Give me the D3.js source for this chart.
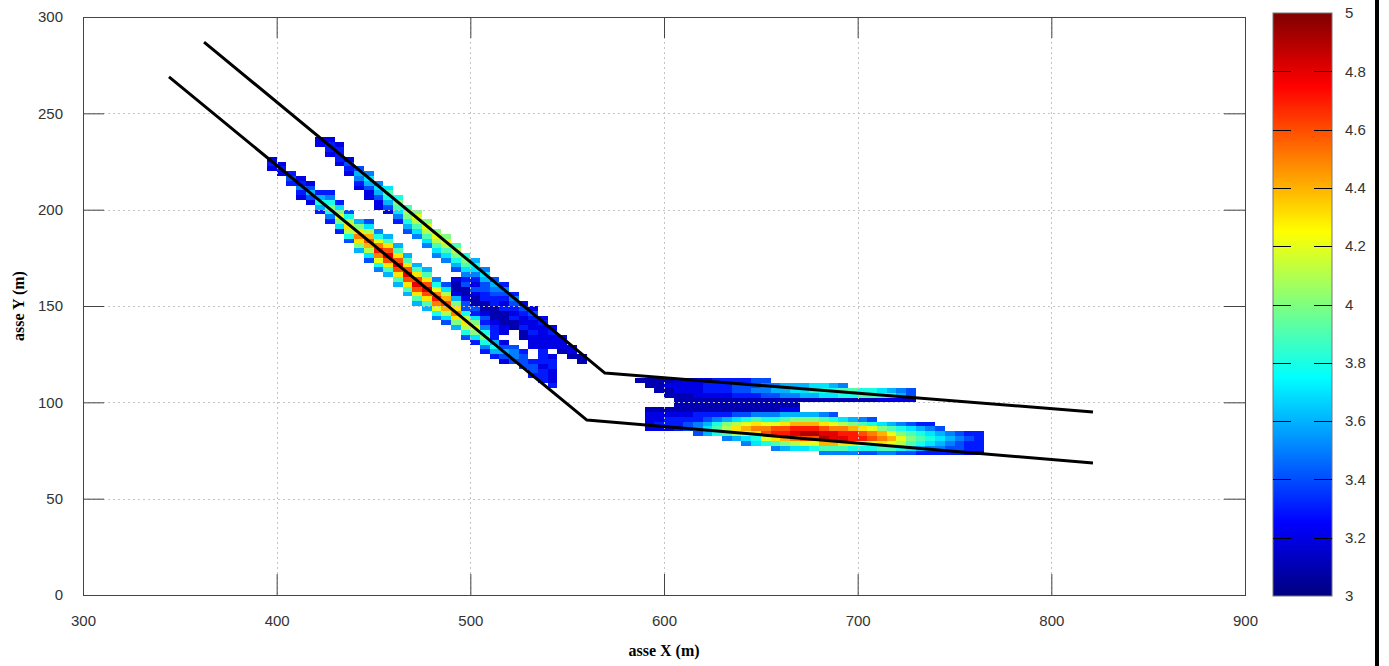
<!DOCTYPE html>
<html>
<head>
<meta charset="utf-8">
<script src="https://cdn.jsdelivr.net/npm/d3@7"></script>
<style>
  body { margin: 0; background: #fff; }
  svg { display: block; }
</style>
</head>
<body>
<script>
let xTicks = [300, 400, 500, 600, 700, 800, 900];
let yTicks = [0, 50, 100, 150, 200, 250, 300];
let cTicks = [3, 3.2, 3.4, 3.6, 3.8, 4, 4.2, 4.4, 4.6, 4.8, 5];
let cellW = 5, cellH = 2.5;
// one char per cell: 0 = 3.0, 1 = 3.1 ... 9 = 3.9, A = 4.0 ... K = 5.0
let codes = "0123456789ABCDEFGHIJK";

// diagonal bands, one entry per column: [x left, y bottom, cells bottom->top]
let lowerBand = [
    [395, 220, "232"],
    [400, 217.5, "232"],
    [405, 212.5, "343"],
    [410, 205, "23532"],
    [415, 202.5, "24642"],
    [420, 197.5, "36863"],
    [425, 192.5, "358A853"],
    [430, 187.5, "37ACA73"],
    [435, 182.5, "48BDB84"],
    [440, 177.5, "6ADFDA6"],
    [445, 172.5, "47BEGEB74"],
    [450, 167.5, "58CFHFC85"],
    [455, 165, "69DGIGD96"],
    [460, 160, "69DGIGD96"],
    [465, 155, "69DGIGD96"],
    [470, 150, "69DGIGD96"],
    [475, 147.5, "69DGIGD96"],
    [480, 142.5, "58CFHFC85"],
    [485, 140, "47BEGEB74"],
    [490, 137.5, "6ADFDA6"],
    [495, 132.5, "48BDB84"],
    [500, 130, "37ACA73"],
    [505, 125, "358A853"],
    [510, 122.5, "36863"],
    [515, 120, "24642"],
    [520, 120, "4554"],
    [525, 117.5, "4443"],
    [530, 112.5, "3443"],
    [535, 110, "333"],
    [540, 107.5, "322"]
];
let upperBand = [
    [420, 232.5, "22"],
    [425, 227.5, "2332"],
    [430, 222.5, "23332"],
    [435, 217.5, "2342"],
    [440, 210, "23564"],
    [445, 205, "224675"],
    [450, 200, "224675"],
    [455, 197.5, "246897"],
    [460, 192.5, "3579A8"],
    [465, 187.5, "468AB9"],
    [470, 185, "579BCA"],
    [475, 180, "579BCA"],
    [480, 175, "579BCA"],
    [485, 172.5, "579BCA"],
    [490, 167.5, "468AB9"],
    [495, 162.5, "3579A8"],
    [500, 160, "235786"],
    [505, 155, "344675"],
    [510, 150, "334564"],
    [515, 147.5, "323453"],
    [520, 142.5, "323453"],
    [525, 137.5, "322342"],
    [530, 135, "322342"],
    [535, 130, "222232"],
    [540, 127.5, "22232"],
    [545, 125, "1222"],
    [550, 122.5, "122"],
    [555, 120, "11"]
];
let middleBand = [
    [490, 155, "2112"],
    [495, 150, "42114"],
    [500, 147.5, "41124"],
    [505, 142.5, "42113"],
    [510, 135, "332111"],
    [515, 135, "22111"],
    [520, 137.5, "11"],
    [525, 132.5, "11"],
    [530, 127.5, "222"],
    [535, 117.5, "23332"],
    [540, 115, "2332"]
];

// flat bands, one entry per row: [y bottom, x left, cells left->right]
let rightUpper = [
    [110, 585, "11112222333344"],
    [107.5, 590, "112222333444556667765"],
    [105, 595, "112223334455667788899887654"],
    [102.5, 600, "11122223334455667788999864"],
    [100, 605, "1111111111111111111112222"],
    [97.5, 605, "1111111111111"]
];
let rightLower = [
    [95, 590, "1111111111111122"],
    [92.5, 590, "22222333344555666654"],
    [90, 590, "223333456789889AAA987654"],
    [87.5, 590, "23334568ABCDCCDEEEDCBA98765433"],
    [85, 590, "22234579BDEFFGGHHHGFFEDCA987654"],
    [82.5, 615, "4689BCDGHHIJJIIHHGFECA98765433"],
    [80, 630, "5678CDEFGGJIIHHGFECA9876543"],
    [77.5, 640, "5789ABCCEEDDCCDCB98765433"],
    [75, 655, "5677899988899876554433"],
    [72.5, 680, "55554455443333322"]
];

let line1 = [[362.5, 287], [569.5, 115.2], [821.5, 95]];
let line2 = [[344.4, 268.9], [560.2, 90.8], [821.5, 68.5]];

let width = 1389, height = 666;
let plot = {left: 83, right: 1245, top: 17, bottom: 595};
let bar = {left: 1273, width: 59, top: 13, bottom: 596};

let xScale = d3.scaleLinear().domain([300, 900]).range([plot.left, plot.right]);
let yScale = d3.scaleLinear().domain([0, 300]).range([plot.bottom, plot.top]);
let color = d3.scaleLinear()
    .domain([3, 3.25, 3.75, 4.25, 4.75, 5])
    .range(["#00007f", "#0000ff", "#00ffff", "#ffff00", "#ff0000", "#7f0000"])
    .clamp(true);
let cScale = d3.scaleLinear().domain([3, 5]).range([bar.bottom, bar.top]);

let cells = [];
function addColumns(list) {
    list.forEach(([cx, yb, s]) => {
        for (let i = 0; i < s.length; i++) {
            if (s[i] === ".") continue;
            cells.push({x: cx, y: yb + i * cellH, v: 3 + codes.indexOf(s[i]) / 10});
        }
    });
}
function addRows(list) {
    list.forEach(([yb, xs, s]) => {
        for (let i = 0; i < s.length; i++) {
            if (s[i] === ".") continue;
            cells.push({x: xs + i * cellW, y: yb, v: 3 + codes.indexOf(s[i]) / 10});
        }
    });
}
addColumns(lowerBand);
addColumns(upperBand);
addColumns(middleBand);
addRows(rightUpper);
addRows(rightLower);

let svg = d3.select("body").append("svg")
    .attr("width", width)
    .attr("height", height);

svg.append("rect").attr("width", width).attr("height", height).attr("fill", "#fff");

// heat cells
svg.append("g")
    .selectAll("rect")
    .data(cells)
    .join("rect")
    .attr("x", d => xScale(d.x))
    .attr("y", d => yScale(d.y + cellH))
    .attr("width", d => xScale(d.x + cellW) - xScale(d.x))
    .attr("height", d => yScale(d.y) - yScale(d.y + cellH))
    .attr("fill", d => color(d.v))
    .attr("shape-rendering", "crispEdges");

// dotted grid
let grid = svg.append("g")
    .attr("stroke", "#c4c4c4")
    .attr("stroke-width", 1)
    .attr("stroke-dasharray", "2,3");
grid.selectAll(".gx")
    .data(xTicks.slice(1, -1))
    .join("line")
    .attr("x1", d => Math.round(xScale(d)) + 0.5)
    .attr("x2", d => Math.round(xScale(d)) + 0.5)
    .attr("y1", plot.top)
    .attr("y2", plot.bottom);
grid.selectAll(".gy")
    .data(yTicks.slice(1, -1))
    .join("line")
    .attr("y1", d => Math.round(yScale(d)) + 0.5)
    .attr("y2", d => Math.round(yScale(d)) + 0.5)
    .attr("x1", plot.left)
    .attr("x2", plot.right);

// the two polylines
let path = d3.line()
    .x(d => xScale(d[0]))
    .y(d => yScale(d[1]));
[line1, line2].forEach(l => {
    svg.append("path")
        .attr("d", path(l))
        .attr("fill", "none")
        .attr("stroke", "#000")
        .attr("stroke-width", 3)
        .attr("stroke-linejoin", "round");
});

// axes with inward ticks, mirrored
let tickLen = 21;
function styleAxis(g) {
    g.select(".domain").remove();
    g.selectAll("line").attr("stroke", "#444");
    g.selectAll("text")
        .attr("fill", "#333")
        .style("font-family", "'Liberation Sans', Arial, sans-serif")
        .style("font-size", "15px");
}
svg.append("g")
    .attr("transform", "translate(0," + plot.bottom + ")")
    .call(d3.axisBottom(xScale).tickValues(xTicks).tickSize(-tickLen).tickPadding(20))
    .call(styleAxis);
svg.append("g")
    .attr("transform", "translate(0," + plot.top + ")")
    .call(d3.axisTop(xScale).tickValues(xTicks).tickSize(-tickLen).tickFormat(""))
    .call(styleAxis);
svg.append("g")
    .attr("transform", "translate(" + plot.left + ",0)")
    .call(d3.axisLeft(yScale).tickValues(yTicks).tickSize(-tickLen).tickPadding(20))
    .call(styleAxis);
svg.append("g")
    .attr("transform", "translate(" + plot.right + ",0)")
    .call(d3.axisRight(yScale).tickValues(yTicks).tickSize(-tickLen).tickFormat(""))
    .call(styleAxis);

svg.append("rect")
    .attr("x", plot.left + 0.5)
    .attr("y", plot.top + 0.5)
    .attr("width", plot.right - plot.left)
    .attr("height", plot.bottom - plot.top)
    .attr("fill", "none")
    .attr("stroke", "#444");

// axis titles
svg.append("text")
    .attr("x", (plot.left + plot.right) / 2)
    .attr("y", 656)
    .attr("text-anchor", "middle")
    .style("font-family", "'Liberation Serif', 'Times New Roman', serif")
    .style("font-weight", "bold")
    .style("font-size", "16px")
    .text("asse X (m)");
svg.append("text")
    .attr("transform", "translate(24," + (plot.top + plot.bottom) / 2 + ") rotate(-90)")
    .attr("text-anchor", "middle")
    .style("font-family", "'Liberation Serif', 'Times New Roman', serif")
    .style("font-weight", "bold")
    .style("font-size", "16px")
    .text("asse Y (m)");

// colour bar
let grad = svg.append("defs").append("linearGradient")
    .attr("id", "jet")
    .attr("x1", 0).attr("y1", 1).attr("x2", 0).attr("y2", 0);
grad.selectAll("stop")
    .data(color.domain())
    .join("stop")
    .attr("offset", d => (d - 3) / 2)
    .attr("stop-color", d => color(d));
svg.append("rect")
    .attr("x", bar.left)
    .attr("y", bar.top)
    .attr("width", bar.width)
    .attr("height", bar.bottom - bar.top)
    .attr("fill", "url(#jet)")
    .attr("stroke", "#777");
let cbTicks = svg.append("g").attr("stroke", "#000");
cbTicks.selectAll(".l")
    .data(cTicks.slice(1, -1))
    .join("line")
    .attr("x1", bar.left).attr("x2", bar.left + 18)
    .attr("y1", d => Math.round(cScale(d)) + 0.5)
    .attr("y2", d => Math.round(cScale(d)) + 0.5);
cbTicks.selectAll(".r")
    .data(cTicks.slice(1, -1))
    .join("line")
    .attr("x1", bar.left + bar.width - 18).attr("x2", bar.left + bar.width)
    .attr("y1", d => Math.round(cScale(d)) + 0.5)
    .attr("y2", d => Math.round(cScale(d)) + 0.5);
svg.append("g")
    .selectAll("text")
    .data(cTicks)
    .join("text")
    .attr("x", 1345)
    .attr("y", d => cScale(d))
    .attr("dy", "0.35em")
    .attr("fill", "#333")
    .style("font-family", "'Liberation Sans', Arial, sans-serif")
    .style("font-size", "15px")
    .text(d => d3.format("")(d));

// right frame edge
svg.append("rect")
    .attr("x", 1375)
    .attr("y", 0)
    .attr("width", 4)
    .attr("height", height)
    .attr("fill", "#000");
</script>
</body>
</html>
